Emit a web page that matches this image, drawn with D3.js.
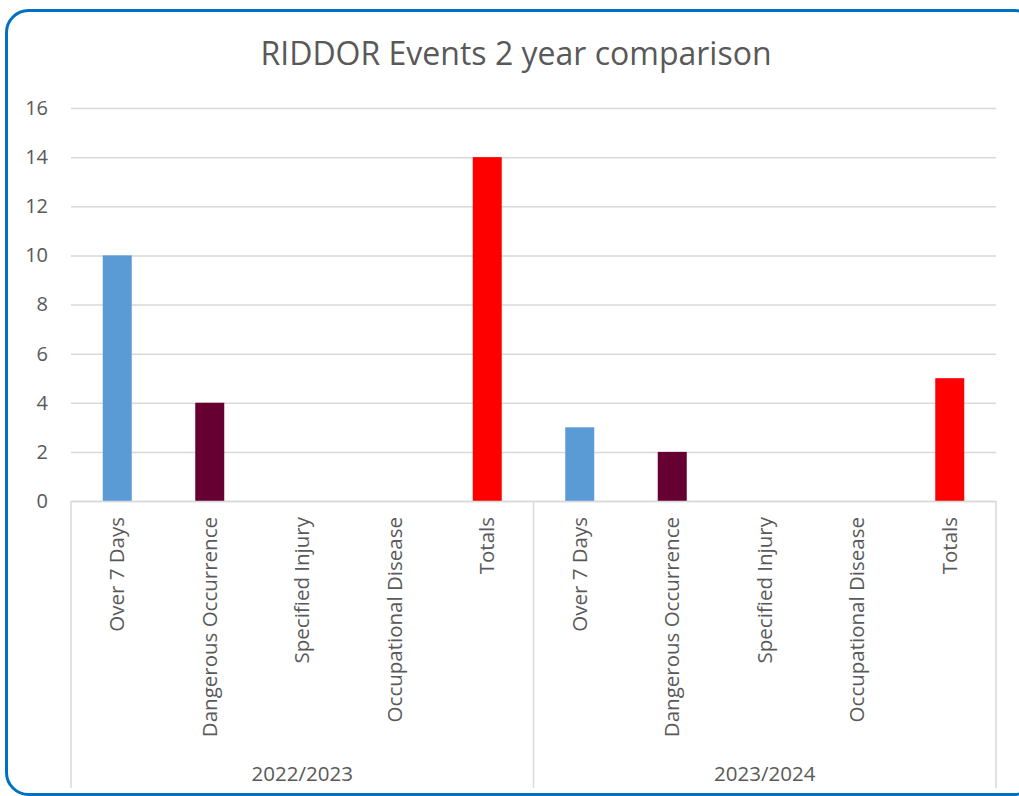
<!DOCTYPE html>
<html>
<head>
<meta charset="utf-8">
<script src="https://cdn.jsdelivr.net/npm/d3@7"></script>
<style>
  body { margin: 0; background: #fff; }
  svg text { font-family: "Open Sans", "Noto Sans", sans-serif; fill: #595959; }
</style>
</head>
<body>
<div id="chart-area"></div>
<script>
// data
const years = ["2022/2023", "2023/2024"];
const categories = ["Over 7 Days", "Dangerous Occurrence", "Specified Injury", "Occupational Disease", "Totals"];
const values2022 = [10, 4, 0, 0, 14];
const values2023 = [3, 2, 0, 0, 5];
const catColors = ["#5B9BD5", "#660033", "#A5A5A5", "#FFC000", "#FF0000"];
const yTicks = [0, 2, 4, 6, 8, 10, 12, 14, 16];

const svgWidth = 1019, svgHeight = 796;
const margin = {left: 71, right: 23, top: 108, bottom: 295};
const areaWidth = svgWidth - margin.left - margin.right;
const areaHeight = svgHeight - margin.top - margin.bottom;

const rows = [];
years.forEach((yr, i) => {
	const vals = i === 0 ? values2022 : values2023;
	categories.forEach((c, j) => {
		rows.push({year: yr, cat: c, key: yr + "|" + c, value: vals[j], color: catColors[j]});
	});
});

const svg = d3.select("#chart-area")
	.append("svg")
	.attr("width", svgWidth)
	.attr("height", svgHeight);

// blue rounded frame
svg.append("rect")
	.attr("x", 6.5)
	.attr("y", 10.5)
	.attr("width", 1030)
	.attr("height", 784)
	.attr("rx", 22)
	.attr("fill", "none")
	.attr("stroke", "#0070C0")
	.attr("stroke-width", 3);

svg.append("text")
	.attr("x", 516)
	.attr("y", 65)
	.attr("text-anchor", "middle")
	.attr("font-size", "32px")
	.text("RIDDOR Events 2 year comparison");

const area = svg.append("g")
	.attr("transform", `translate(${margin.left}, ${margin.top})`);

const x = d3.scaleBand().domain(rows.map(d => d.key)).range([0, areaWidth]);
const xGroup = d3.scaleBand().domain(years).range([0, areaWidth]);
const y = d3.scaleLinear().domain([0, 16]).range([areaHeight, 0]);

// gridlines
const yAxisCall = d3.axisLeft(y).tickValues(yTicks).tickSize(-areaWidth).tickPadding(23);
const yAxisGroup = area.append("g").call(yAxisCall);
yAxisGroup.select(".domain").remove();
yAxisGroup.selectAll(".tick line").attr("stroke", "#D9D9D9").attr("stroke-width", 1.5);
yAxisGroup.selectAll(".tick text").attr("font-size", "20px").attr("fill", "#595959");

// bars
const barW = 29;
area.selectAll("rect.bar").data(rows).enter().append("rect")
	.attr("class", "bar")
	.attr("x", d => x(d.key) + x.bandwidth() / 2 - barW / 2)
	.attr("y", d => y(d.value))
	.attr("width", barW)
	.attr("height", d => y(0) - y(d.value))
	.attr("fill", d => d.color);

// category axis
const xAxisCall = d3.axisBottom(x).tickSize(0).tickFormat(k => k.split("|")[1]);
const xAxisGroup = area.append("g")
	.attr("transform", `translate(0, ${areaHeight})`)
	.call(xAxisCall);
xAxisGroup.select(".domain").attr("stroke", "#D9D9D9").attr("stroke-width", 1.5);
xAxisGroup.selectAll(".tick text")
	.attr("font-size", "20.5px")
	.attr("fill", "#595959")
	.attr("transform", "rotate(-90)")
	.attr("text-anchor", "end")
	.attr("x", -16)
	.attr("y", 0)
	.attr("dy", "0.35em");

// group separators and labels
const sepH = 287;
const bounds = [0].concat(years.map(g => xGroup(g) + xGroup.bandwidth()));
area.selectAll("line.sep").data(bounds).enter().append("line")
	.attr("class", "sep")
	.attr("x1", d => d).attr("x2", d => d)
	.attr("y1", areaHeight).attr("y2", areaHeight + sepH)
	.attr("stroke", "#D9D9D9")
	.attr("stroke-width", 1.5);

area.selectAll("text.group").data(years).enter().append("text")
	.attr("class", "group")
	.attr("x", d => xGroup(d) + xGroup.bandwidth() / 2)
	.attr("y", areaHeight + 280)
	.attr("text-anchor", "middle")
	.attr("font-size", "20.5px")
	.text(d => d);
</script>
</body>
</html>
